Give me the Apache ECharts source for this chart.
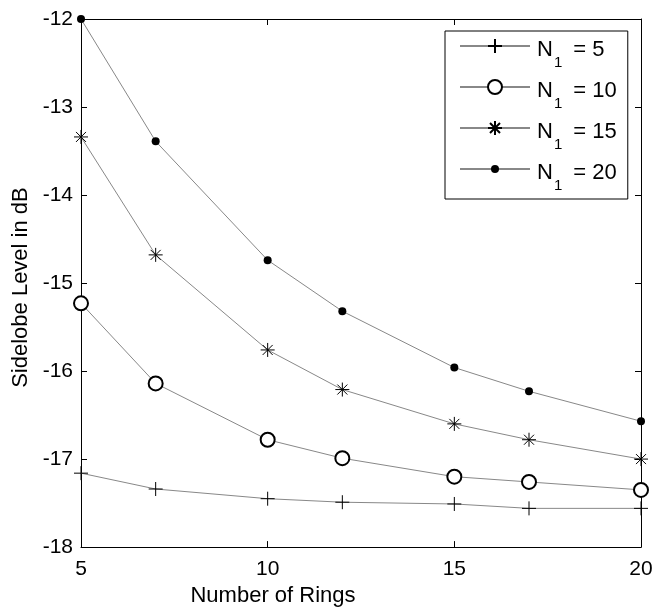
<!DOCTYPE html>
<html>
<head>
<meta charset="UTF-8">
<title>Sidelobe level</title>
<script src="https://cdn.jsdelivr.net/npm/echarts@6/dist/echarts.min.js"></script>
<style>
  html, body { margin: 0; padding: 0; background: #fff; }
  #chart { width: 666px; height: 612px; }
</style>
</head>
<body>
<div id="chart"></div>
<script>
// number of rings (x)
var rings = [5, 7, 10, 12, 15, 17, 20];
// sidelobe level in dB for each N1
var sll5  = [-17.16, -17.34, -17.45, -17.49, -17.51, -17.56, -17.56];
var sll10 = [-15.23, -16.14, -16.78, -16.99, -17.20, -17.26, -17.35];
var sll15 = [-13.34, -14.68, -15.76, -16.21, -16.60, -16.78, -17.00];
var sll20 = [-12.00, -13.39, -14.74, -15.32, -15.96, -16.23, -16.57];
var seriesNames = ['N1 = 5', 'N1 = 10', 'N1 = 15', 'N1 = 20'];
var legendLabels = ['{f|N}{s|1}{n| = 5}', '{f|N}{s|1}{n| = 10}', '{f|N}{s|1}{n| = 15}', '{f|N}{s|1}{n| = 20}'];

var FONT = 'Liberation Sans, Arial, sans-serif';

// marker shapes, all in a 14x14 box
var symPlus = 'path://M0 7L14 7M7 0L7 14';
var symStar = 'path://M0 7L14 7M7 0L7 14M2 2L12 12M2 12L12 2';
var symDot  = 'path://M0 0M14 14M3 7A4 4 0 1 1 11 7A4 4 0 1 1 3 7Z';

function pairs(ys) {
    return rings.map(function (x, i) { return [x, ys[i]]; });
}

function mkSeries(name, ys, symbol, strokeMarker) {
    return {
        name: name,
        type: 'line',
        data: pairs(ys),
        symbol: symbol,
        symbolSize: 14,
        clip: false,
        lineStyle: { color: '#888', width: 1 },
        itemStyle: strokeMarker
            ? { color: '#000', borderColor: '#000', borderWidth: 1 }
            : { color: '#000', borderWidth: 0 },
        emphasis: { disabled: true }
    };
}

var myChart = echarts.init(document.getElementById('chart'));

var axisCommon = {
    axisLine: { show: true, lineStyle: { color: '#000', width: 1 } },
    axisTick: { show: true, inside: true, length: 6, lineStyle: { color: '#000' } },
    splitLine: { show: false }
};

option = {
    animation: false,
    backgroundColor: '#fff',
    grid: { left: 81, right: 25, top: 19, bottom: 60 },
    legend: {
        orient: 'vertical',
        left: 445,
        top: 31,
        padding: [4, 11, 6, 14],
        itemGap: 6,
        itemWidth: 70,
        itemHeight: 17.5,
        backgroundColor: '#fff',
        borderColor: '#000',
        borderWidth: 1,
        borderRadius: 0,
        data: seriesNames,
        formatter: function (name) {
            return legendLabels[seriesNames.indexOf(name)];
        },
        textStyle: {
            color: '#000',
            rich: {
                f: { fontSize: 22, fontFamily: FONT, color: '#000', lineHeight: 22, padding: [4, 0, 0, 2], verticalAlign: 'top' },
                n: { fontSize: 22, fontFamily: FONT, color: '#000', lineHeight: 22, padding: [4, 0, 0, 0], verticalAlign: 'top' },
                s: { fontSize: 15, fontFamily: FONT, color: '#000', lineHeight: 15, padding: [20, 5, 0, 1], verticalAlign: 'top' }
            }
        }
    },
    xAxis: [
        Object.assign({
            type: 'value', min: 5, max: 20, interval: 5,
            position: 'bottom',
            name: 'Number of Rings',
            nameLocation: 'middle',
            nameGap: 36,
            nameTextStyle: { fontSize: 22, fontFamily: FONT, color: '#000', padding: [0, 176, 0, 0] },
            axisLabel: { fontSize: 21, fontFamily: FONT, color: '#000', margin: 12 }
        }, axisCommon),
        Object.assign({
            type: 'value', min: 5, max: 20, interval: 5,
            position: 'top',
            axisLabel: { show: false }
        }, axisCommon)
    ],
    yAxis: [
        Object.assign({
            type: 'value', min: -18, max: -12, interval: 1,
            position: 'left',
            name: 'Sidelobe Level in dB',
            nameLocation: 'middle',
            nameGap: 44,
            nameTextStyle: { fontSize: 22, fontFamily: FONT, color: '#000', padding: [0, 9, 0, 0] },
            axisLabel: { fontSize: 21, fontFamily: FONT, color: '#000', margin: 8 }
        }, axisCommon),
        Object.assign({
            type: 'value', min: -18, max: -12, interval: 1,
            position: 'right',
            axisLabel: { show: false }
        }, axisCommon)
    ],
    series: [
        mkSeries(seriesNames[0], sll5, symPlus, true),
        mkSeries(seriesNames[1], sll10, 'emptyCircle', true),
        mkSeries(seriesNames[2], sll15, symStar, true),
        mkSeries(seriesNames[3], sll20, symDot, false)
    ]
};

myChart.setOption(option);
</script>
</body>
</html>
